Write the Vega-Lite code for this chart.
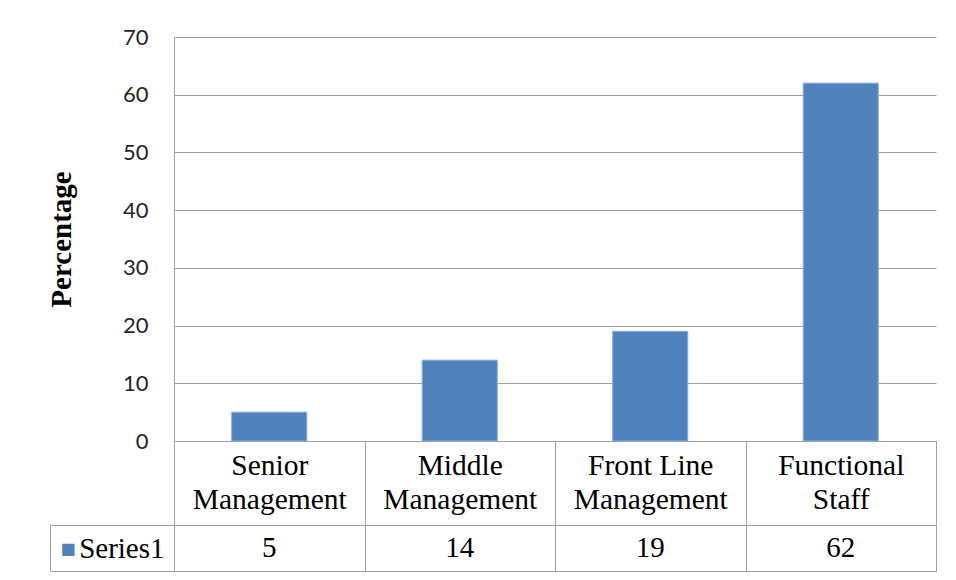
{
  "$schema": "https://vega.github.io/schema/vega-lite/v6.json",
  "padding": {"left": 47, "top": 26, "right": 0, "bottom": 0},
  "background": "white",
  "spacing": -17,
  "config": {"view": {"stroke": null}},
  "datasets": {
    "table": [
      {"category": "Senior Management", "series": "Series1", "percentage": 5},
      {"category": "Middle Management", "series": "Series1", "percentage": 14},
      {"category": "Front Line Management", "series": "Series1", "percentage": 19},
      {"category": "Functional Staff", "series": "Series1", "percentage": 62}
    ]
  },
  "vconcat": [
    {
      "width": 762,
      "height": 404,
      "data": {"name": "table"},
      "mark": {"type": "bar", "color": "#4F81BD", "stroke": "#8AACD6", "strokeWidth": 1, "width": {"band": 0.394}},
      "encoding": {
        "x": {
          "field": "category", "type": "nominal", "sort": null,
          "scale": {"paddingInner": 0, "paddingOuter": 0},
          "axis": {
            "title": null, "orient": "bottom",
            "domainColor": "#a0a0a0", "domainWidth": 1,
            "ticks": true, "tickBand": "extent", "tickSize": 83, "tickColor": "#a0a0a0", "tickWidth": 1,
            "labelAngle": 0, "labelFont": "Liberation Serif", "labelFontSize": 29.5, "labelColor": "black",
            "labelLineHeight": 34, "labelBaseline": "top", "labelPadding": -73, "labelLimit": 0,
            "labelExpr": "datum.label == 'Front Line Management' ? ['Front Line', 'Management'] : split(datum.label, ' ')"
          }
        },
        "y": {
          "field": "percentage", "type": "quantitative",
          "scale": {"domain": [0, 70]},
          "axis": {
            "title": "Percentage", "titleFont": "Liberation Serif", "titleFontSize": 29, "titleFontWeight": "bold",
            "titleColor": "black", "titlePadding": 46,
            "values": [0, 10, 20, 30, 40, 50, 60, 70],
            "labelFont": "Lato", "labelFontSize": 22, "labelColor": "#262626", "labelPadding": 26,
            "ticks": false, "domainColor": "#a0a0a0", "grid": true, "gridColor": "#a0a0a0", "gridOpacity": 1
          }
        }
      }
    },
    {
      "width": 762,
      "height": 46,
      "view": {"stroke": "#a0a0a0"},
      "data": {"name": "table"},
      "mark": {"type": "text", "font": "Liberation Serif", "fontSize": 29, "color": "black"},
      "encoding": {
        "x": {
          "field": "category", "type": "nominal", "sort": null,
          "scale": {"paddingInner": 0, "paddingOuter": 0},
          "axis": {"title": null, "labels": false, "ticks": false, "domain": false, "grid": true, "tickBand": "extent", "gridColor": "#a0a0a0", "gridOpacity": 1}
        },
        "y": {
          "field": "series", "type": "nominal",
          "scale": {"paddingInner": 0, "paddingOuter": 0},
          "axis": {
            "title": "■", "titleColor": "#4F81BD", "titleAngle": 0, "titleFont": "DejaVu Sans", "titleFontSize": 16,
            "titleFontWeight": "normal", "titleAlign": "left", "titleBaseline": "middle", "titleX": 10, "titleY": 23,
            "offset": 124, "domainColor": "#a0a0a0", "tickColor": "#a0a0a0", "tickBand": "extent", "tickSize": -124,
            "labelFont": "Liberation Serif", "labelFontSize": 29, "labelColor": "black", "labelPadding": 10, "labelAlign": "right"
          }
        },
        "text": {"field": "percentage", "type": "quantitative"}
      }
    }
  ]
}
